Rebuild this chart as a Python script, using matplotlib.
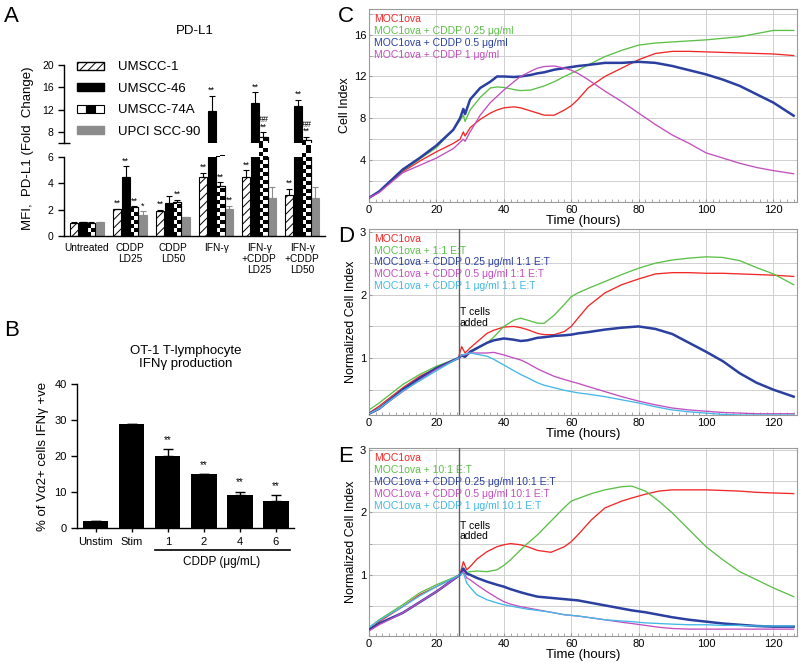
import numpy as np
import matplotlib
matplotlib.use('Agg')
import matplotlib.pyplot as plt
from matplotlib.patches import Patch, Rectangle
from matplotlib.legend_handler import HandlerBase
from matplotlib.ticker import MultipleLocator

plt.rcParams['font.family'] = ['Liberation Sans', 'DejaVu Sans']
plt.rcParams['hatch.linewidth'] = 0.7

# ---- panel A: PD-L1 fold change ----
groups = ['Untreated', 'CDDP\nLD25', 'CDDP\nLD50', 'IFN-γ', 'IFN-γ\n+CDDP\nLD25', 'IFN-γ\n+CDDP\nLD50']
lines_a = ['UMSCC-1', 'UMSCC-46', 'UMSCC-74A', 'UPCI SCC-90']
umscc1 = [1.0, 2.02, 1.92, 4.45, 4.5, 3.15]
umscc1_err = [0.03, 0.05, 0.08, 0.35, 0.5, 0.45]
umscc46 = [1.05, 4.45, 2.47, 11.8, 13.2, 12.7]
umscc46_err = [0.05, 0.85, 0.6, 2.7, 1.9, 1.05]
umscc74a = [1.0, 2.17, 2.55, 3.8, 7.0, 6.6]
umscc74a_err = [0.03, 0.1, 0.2, 0.3, 0.9, 0.5]
scc90 = [1.05, 1.59, 1.45, 2.05, 2.85, 2.9]
scc90_err = [0.03, 0.3, 0.03, 0.25, 0.9, 0.85]
umscc1_sig = ['', '**', '**', '**', '**', '**']
umscc46_sig = ['', '**', '', '**', '**', '**']
umscc74a_sig = ['', '**', '**', '**', '##\n**', '##\n**']
scc90_sig = ['', '*', '', '**', '', '']

# ---- panel B: OT-1 IFNg ----
b_cats = ['Unstim', 'Stim', '1', '2', '4', '6']
b_vals = [2.0, 28.9, 20.0, 15.0, 9.2, 7.6]
b_err = [0.0, 0.0, 1.9, 0.0, 0.9, 1.6]
b_sig = ['', '', '**', '**', '**', '**']

# ---- panel C: cell index ----
tC = [0, 3, 10, 15, 20, 25, 27, 28, 28.5, 30, 33, 36, 38, 40, 43, 45, 48, 50, 52, 55, 58, 60,
      62, 65, 70, 75, 80, 85, 90, 95, 100, 105, 110, 115, 120, 126]
c_moc = [0.4, 1.0, 2.9, 3.9, 4.8, 5.6, 6.0, 6.7, 6.3, 7.1, 7.9, 8.5, 8.8, 9.0, 9.1, 9.0, 8.7, 8.5,
         8.3, 8.3, 8.8, 9.2, 9.8, 10.9, 12.0, 12.8, 13.6, 14.2, 14.4, 14.4, 14.35, 14.3, 14.25, 14.2,
         14.15, 14.0]
c_025 = [0.4, 1.0, 3.0, 4.1, 5.2, 6.9, 7.8, 8.3, 7.7, 8.8, 10.0, 10.9, 11.0, 10.95, 10.75, 10.65,
         10.7, 10.9, 11.1, 11.5, 12.0, 12.3, 12.6, 13.1, 13.9, 14.5, 15.0, 15.2, 15.3, 15.4, 15.5,
         15.65, 15.8, 16.1, 16.4, 16.4]
c_05 = [0.4, 1.0, 3.1, 4.2, 5.4, 6.9, 8.0, 8.9, 8.4, 9.8, 10.9, 11.5, 12.0, 12.0, 11.95, 12.0,
        12.15, 12.3, 12.4, 12.65, 12.8, 12.9, 13.0, 13.1, 13.3, 13.3, 13.4, 13.3, 13.0, 12.6, 12.2,
        11.7, 11.1, 10.3, 9.5, 8.25]
c_1 = [0.4, 0.9, 2.8, 3.5, 4.2, 5.1, 5.7, 6.0, 5.8, 6.7, 8.3, 9.5, 10.1, 10.7, 11.5, 12.0, 12.5,
       12.8, 12.95, 13.0, 12.8, 12.6, 12.3, 11.7, 10.6, 9.6, 8.5, 7.4, 6.4, 5.6, 4.7, 4.2, 3.7, 3.3,
       3.0, 2.7]
c_labels = ['MOC1ova', 'MOC1ova + CDDP 0.25 μg/ml', 'MOC1ova + CDDP 0.5 μg/ml', 'MOC1ova + CDDP 1 μg/ml']

# ---- panel D: 1:1 E:T ----
tD = [0, 3, 10, 15, 20, 26.5, 27.5, 28.5, 30, 35, 37, 40, 43, 45, 47, 50, 52, 55, 58, 60, 62, 65,
      70, 75, 80, 85, 90, 95, 100, 105, 110, 115, 120, 126]
d_moc = [0.13, 0.24, 0.53, 0.71, 0.84, 1.0, 1.18, 1.08, 1.16, 1.39, 1.44, 1.49, 1.5, 1.48, 1.45,
         1.39, 1.37, 1.37, 1.42, 1.5, 1.63, 1.82, 2.03, 2.16, 2.25, 2.33, 2.35, 2.35, 2.34, 2.34,
         2.33, 2.32, 2.31, 2.29]
d_et = [0.18, 0.29, 0.58, 0.74, 0.87, 1.0, 1.05, 1.03, 1.08, 1.24, 1.33, 1.5, 1.6, 1.63, 1.6, 1.55,
        1.55, 1.68, 1.85, 1.97, 2.03, 2.1, 2.21, 2.32, 2.42, 2.5, 2.55, 2.58, 2.6, 2.59, 2.54, 2.43,
        2.33, 2.16]
d_025 = [0.12, 0.2, 0.5, 0.68, 0.84, 1.0, 1.04, 1.02, 1.1, 1.24, 1.28, 1.31, 1.29, 1.27, 1.28, 1.32,
         1.33, 1.35, 1.36, 1.37, 1.39, 1.41, 1.45, 1.48, 1.5, 1.46, 1.38, 1.24, 1.1, 0.95, 0.76, 0.61,
         0.5, 0.39]
d_05 = [0.12, 0.2, 0.47, 0.65, 0.82, 1.0, 1.04, 1.05, 1.08, 1.08, 1.09, 1.05, 1.0, 0.97, 0.92, 0.83,
        0.78, 0.71, 0.66, 0.63, 0.6, 0.55, 0.47, 0.39, 0.32, 0.26, 0.21, 0.18, 0.16, 0.14, 0.13, 0.12,
        0.12, 0.12]
d_1 = [0.12, 0.2, 0.48, 0.64, 0.8, 1.0, 1.05, 1.06, 1.08, 1.03, 0.98, 0.89, 0.8, 0.74, 0.69, 0.61,
       0.57, 0.53, 0.49, 0.47, 0.45, 0.43, 0.39, 0.34, 0.29, 0.23, 0.18, 0.15, 0.13, 0.11, 0.1, 0.1,
       0.1, 0.1]
d_labels = ['MOC1ova', 'MOC1ova + 1:1 E:T', 'MOC1ova + CDDP 0.25 μg/ml 1:1 E:T',
            'MOC1ova + CDDP 0.5 μg/ml 1:1 E:T', 'MOC1ova + CDDP 1 μg/ml 1:1 E:T']

# ---- panel E: 10:1 E:T ----
tE = [0, 3, 10, 15, 20, 27, 28, 29, 30, 32, 35, 38, 40, 42, 45, 47, 50, 54, 58, 60, 62, 66, 70, 75,
      78, 82, 86, 90, 95, 100, 105, 110, 115, 120, 126]
e_moc = [0.12, 0.25, 0.49, 0.68, 0.81, 1.0, 1.21, 1.08, 1.13, 1.25, 1.37, 1.45, 1.48, 1.5, 1.48,
         1.45, 1.39, 1.36, 1.45, 1.53, 1.64, 1.88, 2.07, 2.18, 2.23, 2.29, 2.34, 2.36, 2.36, 2.36,
         2.35, 2.34, 2.32, 2.31, 2.3]
e_et = [0.15, 0.28, 0.52, 0.71, 0.84, 1.0, 1.08, 1.04, 1.05, 1.06, 1.05, 1.08, 1.15, 1.24, 1.4, 1.5,
        1.64, 1.86, 2.08, 2.18, 2.22, 2.3, 2.36, 2.41, 2.42, 2.34, 2.18, 1.99, 1.72, 1.45, 1.24, 1.05,
        0.92, 0.79, 0.65]
e_025 = [0.12, 0.22, 0.39, 0.56, 0.73, 1.0, 1.1, 1.02, 1.0, 0.95, 0.89, 0.84, 0.81, 0.77, 0.72, 0.69,
         0.65, 0.63, 0.61, 0.6, 0.59, 0.55, 0.51, 0.46, 0.43, 0.4, 0.36, 0.32, 0.28, 0.25, 0.22, 0.2,
         0.18, 0.17, 0.17]
e_05 = [0.1, 0.2, 0.39, 0.56, 0.73, 1.0, 1.05, 0.95, 0.92, 0.84, 0.73, 0.63, 0.57, 0.53, 0.49, 0.47,
        0.44, 0.4, 0.36, 0.35, 0.34, 0.31, 0.28, 0.24, 0.22, 0.19, 0.16, 0.14, 0.13, 0.13, 0.13, 0.13,
        0.13, 0.13, 0.13]
e_1 = [0.16, 0.27, 0.49, 0.66, 0.81, 1.0, 1.03, 0.87, 0.8, 0.68, 0.6, 0.55, 0.52, 0.5, 0.47, 0.45,
       0.43, 0.4, 0.36, 0.35, 0.34, 0.31, 0.28, 0.26, 0.25, 0.23, 0.22, 0.21, 0.2, 0.2, 0.19, 0.19,
       0.18, 0.18, 0.18]
e_labels = ['MOC1ova', 'MOC1ova + 10:1 E:T', 'MOC1ova + CDDP 0.25 μg/ml 10:1 E:T',
            'MOC1ova + CDDP 0.5 μg/ml 10:1 E:T', 'MOC1ova + CDDP 1 μg/ml 10:1 E:T']

t_cells_added = 26.6

RED, GREEN, BLUE, MAGENTA, CYAN = '#f02828', '#5cc048', '#2a3fa0', '#c24fc0', '#43b8e6'
GRAY = '#8c8c8c'

fig = plt.figure(figsize=(8, 6.69), dpi=100)


def box(left, top, right, bottom):
    # pixel box -> figure fraction
    return [left / 800, 1 - bottom / 669, (right - left) / 800, (bottom - top) / 669]


def checker(ax, bars, cell):
    for bar in bars:
        x0, w, h = bar.get_x(), bar.get_width(), bar.get_height()
        n = int(np.ceil(h / cell))
        img = np.indices((n, 2)).sum(axis=0) % 2
        im = ax.imshow(img, cmap='gray', extent=(x0, x0 + w, 0, n * cell), origin='lower',
                       aspect='auto', interpolation='nearest', zorder=2.5)
        im.set_clip_path(bar)


class CheckerHandler(HandlerBase):
    def create_artists(self, legend, orig_handle, xdescent, ydescent, width, height, fontsize, trans):
        out = []
        for k in range(3):
            out.append(Rectangle((-xdescent + k * width / 3, -ydescent), width / 3, height,
                                 facecolor='black' if k == 1 else 'white', edgecolor='black',
                                 lw=0.8, transform=trans))
        return out


# ================= A =================
ax_hi = fig.add_axes(box(64, 65, 325, 143))
ax_lo = fig.add_axes(box(64, 157, 325, 236))
x = np.arange(len(groups))
bw = 0.19
for ax, cell in [(ax_hi, 0.7), (ax_lo, 0.3)]:
    ax.bar(x - 0.3, umscc1, bw, color='white', edgecolor='black', hatch='////', lw=0.8, zorder=2)
    ax.bar(x - 0.1, umscc46, bw, color='black', edgecolor='black', lw=0.8, zorder=2)
    b74 = ax.bar(x + 0.1, umscc74a, bw, color='white', edgecolor='black', lw=0.8, zorder=2)
    checker(ax, b74, cell)
    ax.bar(x + 0.1, umscc74a, bw, color='none', edgecolor='black', lw=0.8, zorder=3)
    ax.bar(x + 0.3, scc90, bw, color=GRAY, edgecolor=GRAY, lw=0.8, zorder=2)
    ax.set_xlim(-0.535, 5.53)
    for s in ['top', 'right']:
        ax.spines[s].set_visible(False)
    ax.spines['left'].set_linewidth(1.0)
    ax.tick_params(axis='y', labelsize=7.5, length=4, width=1.0)

for vals, errs, sig, off, ec in [(umscc1, umscc1_err, umscc1_sig, -0.3, 'black'),
                                 (umscc46, umscc46_err, umscc46_sig, -0.1, 'black'),
                                 (umscc74a, umscc74a_err, umscc74a_sig, 0.1, 'black'),
                                 (scc90, scc90_err, scc90_sig, 0.3, GRAY)]:
    for i in range(len(groups)):
        ax = ax_hi if vals[i] > 6 else ax_lo
        ax.errorbar(x[i] + off, vals[i], yerr=[[0], [errs[i]]], fmt='none', ecolor=ec,
                    elinewidth=0.8, capsize=2, capthick=0.8, zorder=4)
        if sig[i]:
            ax.annotate(sig[i], (x[i] + off, vals[i] + errs[i]), xytext=(0, 0.5),
                        textcoords='offset points', ha='center', va='bottom', fontsize=6.5,
                        linespacing=0.75)

ax_hi.set_ylim(6, 20)
ax_hi.set_yticks([8, 12, 16, 20])
ax_hi.set_yticks([6], minor=True)
ax_hi.tick_params(axis='y', which='minor', direction='inout', length=8, width=1.0)
ax_hi.spines['bottom'].set_visible(False)
ax_hi.set_xticks([])
ax_hi.set_title('PD-L1', fontsize=9.5, pad=22)

ax_lo.set_ylim(0, 6)
ax_lo.set_yticks([0, 2, 4, 6])
ax_lo.set_yticks([6], minor=True)
ax_lo.tick_params(axis='y', which='minor', direction='inout', length=8, width=1.0)
ax_lo.spines['bottom'].set_linewidth(1.0)
ax_lo.set_xticks(x)
ax_lo.set_xticklabels(groups, fontsize=7.3, linespacing=1.15)
ax_lo.tick_params(axis='x', length=0, pad=5)

check_handle = Patch(label=lines_a[2])
handles = [Patch(facecolor='white', edgecolor='black', hatch='////', label=lines_a[0]),
           Patch(facecolor='black', edgecolor='black', label=lines_a[1]),
           check_handle,
           Patch(facecolor=GRAY, edgecolor=GRAY, label=lines_a[3])]
ax_hi.legend(handles=handles, handler_map={check_handle: CheckerHandler()}, loc='upper left',
             bbox_to_anchor=(0.005, 1.2), frameon=False, fontsize=9.5, handlelength=2.0,
             handleheight=0.55, handletextpad=1.1, labelspacing=0.72)
fig.text(28 / 800, 1 - 148 / 669, 'MFI,  PD-L1 (Fold  Change)', rotation=90, ha='center',
         va='center', fontsize=9.5)

# ================= B =================
ax_b = fig.add_axes(box(77, 384, 294, 528))
xb = np.arange(len(b_cats))
ax_b.bar(xb, b_vals, 0.7, color='black')
ax_b.errorbar(xb, b_vals, yerr=[np.zeros(len(b_err)), b_err], fmt='none', ecolor='black',
              elinewidth=1.0, capsize=3.5, capthick=1.0)
for i in range(len(b_cats)):
    if b_sig[i]:
        ax_b.annotate(b_sig[i], (xb[i], b_vals[i] + b_err[i]), xytext=(0, 3),
                      textcoords='offset points', ha='center', va='bottom', fontsize=7)
ax_b.set_xlim(-0.52, 5.5)
ax_b.set_ylim(0, 40)
ax_b.set_yticks([0, 10, 20, 30, 40])
ax_b.set_xticks(xb)
ax_b.set_xticklabels(b_cats, fontsize=8)
ax_b.tick_params(axis='y', labelsize=8, length=4, width=1.0)
ax_b.tick_params(axis='x', length=3, width=1.0)
for s in ['top', 'right']:
    ax_b.spines[s].set_visible(False)
for s in ['left', 'bottom']:
    ax_b.spines[s].set_linewidth(1.0)
ax_b.set_title('OT-1 T-lymphocyte\nIFNγ production', fontsize=9.5, pad=12)
ax_b.set_ylabel('% of Vα2+ cells IFNγ +ve', fontsize=9.5, labelpad=4)
ax_b.plot([1.65, 5.38], [-0.15, -0.15], color='black', lw=1.2, clip_on=False,
          transform=ax_b.get_xaxis_transform())
ax_b.text(3.5, -0.235, 'CDDP (μg/mL)', ha='center', va='center', fontsize=8.5,
          transform=ax_b.get_xaxis_transform())


# ================= C, D, E =================
def rtca(ax, t, curves, colors, labels, ylo, yhi, ylab, yticks, yminor, t_add=None, note_y=None):
    for vals, col in zip(curves, colors):
        ax.plot(t, vals, color=col, lw=1.8 if col == BLUE else 0.95, zorder=3)
    ax.set_xlim(0, 127)
    ax.set_ylim(ylo, yhi)
    ax.set_xticks(range(0, 121, 20))
    ax.xaxis.set_minor_locator(MultipleLocator(2))
    ax.set_yticks(yticks)
    ax.yaxis.set_minor_locator(MultipleLocator(yminor))
    ax.grid(axis='x', which='major', color='#cfcfcf', lw=0.7)
    ax.grid(axis='y', which='both', color='#cfcfcf', lw=0.7)
    ax.tick_params(which='both', direction='in', length=2, color='#9a9a9a', labelsize=8, pad=2)
    for s in ax.spines.values():
        s.set_color('#9a9a9a')
        s.set_linewidth(0.8)
    ax.set_xlabel('Time (hours)', fontsize=9.5, labelpad=0)
    ax.set_ylabel(ylab, fontsize=9, labelpad=2)
    step = 0.064 if len(labels) == 5 else 0.062
    for k, (lab, col) in enumerate(zip(labels, colors)):
        ax.text(0.012, 0.948 - k * step, lab, color=col, fontsize=7.5, va='center',
                transform=ax.transAxes, zorder=4)
    if t_add is not None:
        ax.axvline(t_add, color='#606060', lw=1.0, zorder=4)
        ax.text(t_add + 0.4, note_y, 'T cells\nadded', fontsize=7.5, va='center', ha='left',
                linespacing=1.1)


ax_c = fig.add_axes(box(369, 9, 797, 202))
rtca(ax_c, tC, [c_moc, c_025, c_05, c_1], [RED, GREEN, BLUE, MAGENTA], c_labels,
     0, 18.45, 'Cell Index', [4, 8, 12, 16], 2)

ax_d = fig.add_axes(box(369, 229, 797, 415))
rtca(ax_d, tD, [d_moc, d_et, d_025, d_05, d_1], [RED, GREEN, BLUE, MAGENTA, CYAN], d_labels,
     0.1, 3.04, 'Normalized Cell Index', [1, 2, 3], 0.5, t_cells_added, 1.64)

ax_e = fig.add_axes(box(369, 448, 797, 636))
rtca(ax_e, tE, [e_moc, e_et, e_025, e_05, e_1], [RED, GREEN, BLUE, MAGENTA, CYAN], e_labels,
     0.02, 3.03, 'Normalized Cell Index', [1, 2, 3], 0.5, t_cells_added, 1.7)

# panel letters
for letter, px, py in [('A', 4, 17), ('B', 4, 330), ('C', 338, 16), ('D', 338, 236), ('E', 338, 456)]:
    fig.text(px / 800, 1 - py / 669, letter, fontsize=16, va='center', ha='left')

fig.savefig('out.png', dpi=100)
